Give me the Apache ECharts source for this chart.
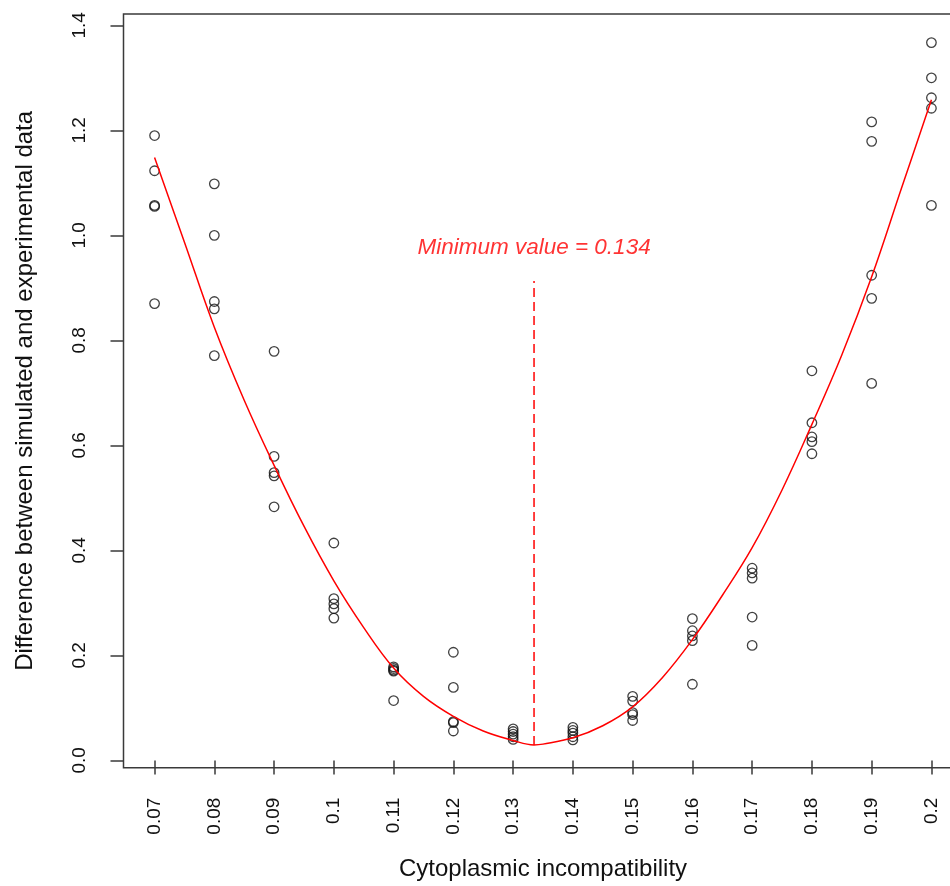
<!DOCTYPE html>
<html>
<head>
<meta charset="utf-8">
<script src="https://cdn.jsdelivr.net/npm/echarts@6/dist/echarts.min.js"></script>
<style>
html,body{margin:0;padding:0;background:#fff;}
#chart{width:950px;height:886px;}
</style>
</head>
<body>
<div id="chart"></div>
<script>
// Axis ticks
const xTickValues = [0.07,0.08,0.09,0.10,0.11,0.12,0.13,0.14,0.15,0.16,0.17,0.18,0.19,0.20];
const xTickLabels = ['0.07','0.08','0.09','0.1','0.11','0.12','0.13','0.14','0.15','0.16','0.17','0.18','0.19','0.2'];
const yTickValues = [0,0.2,0.4,0.6,0.8,1.0,1.2,1.4];
const yTickLabels = ['0.0','0.2','0.4','0.6','0.8','1.0','1.2','1.4'];

// Observed points: cytoplasmic incompatibility levels and 5 replicates each
const ciLevels = [0.07,0.08,0.09,0.10,0.11,0.12,0.13,0.14,0.15,0.16,0.17,0.18,0.19,0.20];
const rep1 = [1.190,1.098,0.779,0.414,0.178,0.206,0.060,0.063,0.122,0.270,0.366,0.742,1.216,1.367];
const rep2 = [1.123,1.000,0.579,0.308,0.175,0.139,0.055,0.057,0.113,0.247,0.357,0.643,1.179,1.300];
const rep3 = [1.057,0.874,0.548,0.298,0.172,0.074,0.050,0.052,0.091,0.237,0.347,0.616,0.924,1.262];
const rep4 = [1.055,0.860,0.542,0.289,0.170,0.072,0.045,0.045,0.087,0.228,0.273,0.607,0.880,1.242];
const rep5 = [0.870,0.771,0.483,0.271,0.114,0.056,0.040,0.039,0.076,0.145,0.219,0.584,0.718,1.057];

// Fitted curve
const fitX = [0.070,0.075,0.080,0.085,0.090,0.095,0.100,0.105,0.110,0.115,0.120,0.125,0.130,0.1335,0.135,0.140,0.145,0.150,0.155,0.160,0.165,0.170,0.175,0.180,0.185,0.190,0.195,0.200];
const fitY = [1.148,0.987,0.825,0.686,0.562,0.446,0.342,0.253,0.176,0.122,0.084,0.056,0.038,0.0295,0.031,0.043,0.066,0.102,0.158,0.230,0.314,0.405,0.515,0.640,0.772,0.921,1.090,1.258];

// Minimum marker
const minX = 0.1335;
const minLineY = [0.0295, 0.913];
const minLabelText = 'Minimum value = 0.134';
const minLabelY = 0.976;

const xName = 'Cytoplasmic incompatibility';
const yName = 'Difference between simulated and experimental data';

const FONT = '"Liberation Sans", Arial, sans-serif';

const scatterData = [];
[rep1, rep2, rep3, rep4, rep5].forEach(function (rep) {
  rep.forEach(function (v, i) { scatterData.push([ciLevels[i], v]); });
});

const chart = echarts.init(document.getElementById('chart'), null, {renderer: 'canvas'});
chart.setOption({
  animation: false,
  backgroundColor: '#ffffff',
  grid: {
    left: 123.5, top: 14, width: 839, height: 753.7,
    containLabel: false, outerBoundsMode: 'none',
    show: true, borderColor: '#3a3a3a', borderWidth: 1.5, backgroundColor: 'transparent'
  },
  xAxis: {
    type: 'value', min: 0.0648, max: 0.2052,
    axisLine: {show: false},
    splitLine: {show: false},
    axisTick: {show: true, length: 14, customValues: xTickValues, lineStyle: {color: '#3a3a3a', width: 1.5}},
    axisLabel: {
      show: true, rotate: 90, margin: 30, customValues: xTickValues,
      fontFamily: FONT, fontSize: 19, color: '#111',
      formatter: function (v) {
        const i = xTickValues.findIndex(function (t) { return Math.abs(t - v) < 1e-9; });
        return i >= 0 ? xTickLabels[i] : '';
      }
    },
    name: xName, nameLocation: 'middle', nameGap: 90,
    nameTextStyle: {fontFamily: FONT, fontSize: 24, color: '#111'}
  },
  yAxis: {
    type: 'value', min: -0.0139, max: 1.4215,
    axisLine: {show: false},
    splitLine: {show: false},
    axisTick: {show: true, length: 13, customValues: yTickValues, lineStyle: {color: '#3a3a3a', width: 1.5}},
    axisLabel: {
      show: true, rotate: 90, margin: 34, customValues: yTickValues,
      fontFamily: FONT, fontSize: 19, color: '#111',
      formatter: function (v) {
        const i = yTickValues.findIndex(function (t) { return Math.abs(t - v) < 1e-9; });
        return i >= 0 ? yTickLabels[i] : '';
      }
    },
    name: yName, nameLocation: 'middle', nameGap: 86, nameRotate: 90,
    nameTextStyle: {fontFamily: FONT, fontSize: 24, color: '#111'}
  },
  series: [
    {
      type: 'scatter', data: scatterData, symbol: 'circle', symbolSize: 9.5,
      itemStyle: {color: 'rgba(0,0,0,0)', borderColor: '#111', borderWidth: 1.3},
      z: 2
    },
    {
      type: 'line', data: fitX.map(function (x, i) { return [x, fitY[i]]; }),
      smooth: 0.4, showSymbol: false, symbol: 'none',
      lineStyle: {color: '#ff0000', width: 1.5},
      z: 3
    },
    {
      type: 'line', data: minLineY.map(function (y) { return [minX, y]; }),
      showSymbol: false, symbol: 'none',
      lineStyle: {color: '#ff0000', width: 1.5, type: [9, 5]},
      z: 3
    },
    {
      type: 'scatter', data: [[minX, minLabelY]], symbolSize: 0,
      label: {
        show: true, position: 'inside', formatter: minLabelText,
        fontFamily: FONT, fontSize: 22.5, fontStyle: 'italic', color: '#ff0000'
      },
      z: 4
    }
  ]
});
</script>
</body>
</html>
